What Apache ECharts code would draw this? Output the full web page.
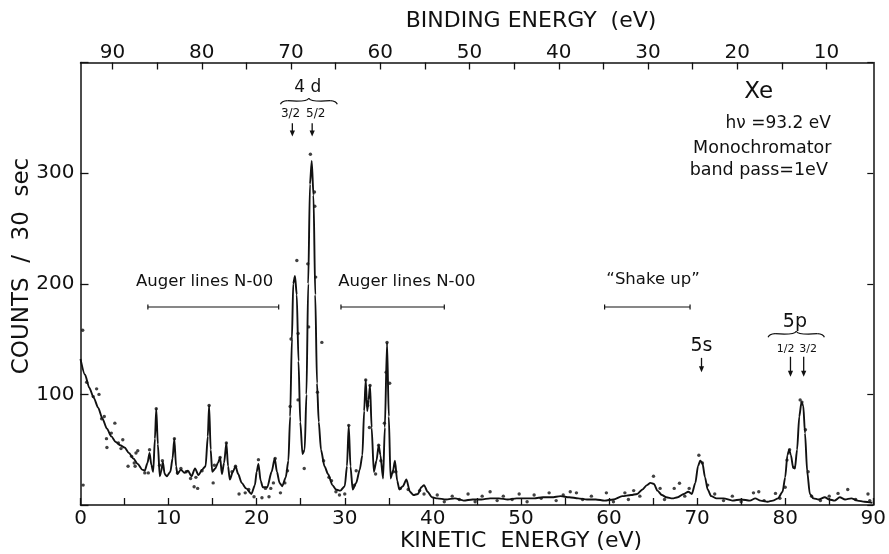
<!DOCTYPE html>
<html><head><meta charset="utf-8">
<script src="https://cdn.jsdelivr.net/npm/echarts@6/dist/echarts.min.js"></script>
<style>html,body{margin:0;padding:0;background:#fff}#c{width:889px;height:554px}</style>
</head><body><div id="c"></div>
<script>
// ---- data (kinetic energy eV, counts / 30 sec) ----
const spectrumCurve = [
[0.0,132],[0.5,118],[1.0,106],[1.5,97],[2.0,88],[2.5,78],[3.0,69],[3.5,62],[4.0,57],[4.5,54],[5.0,52],[5.5,47],[6.0,42],[6.5,37],[7.0,32],[7.3,31],[7.6,38],[7.84,47],[8.05,36],[8.25,30],[8.45,60],[8.6,87],[8.78,55],[9.0,26],[9.15,30],[9.35,39],[9.55,28],[9.8,26],[10.2,30],[10.45,42],[10.65,60],[10.85,35],[11.0,28],[11.4,32],[11.8,29],[12.2,31],[12.6,26],[13.0,33],[13.4,27],[13.8,32],[14.2,35],[14.45,62],[14.6,90],[14.78,50],[14.95,30],[15.3,33],[15.6,38],[15.85,43],[16.05,28],[16.3,38],[16.56,56],[16.75,35],[16.95,23],[17.3,30],[17.6,35],[17.9,28],[18.3,20],[18.8,15],[19.4,10],[19.8,18],[20.0,30],[20.2,37],[20.45,22],[20.7,16],[21.2,16],[21.7,30],[22.05,42],[22.3,30],[22.6,20],[22.9,17],[23.3,25],[23.6,40],[23.8,80],[24.0,150],[24.15,200],[24.35,207],[24.55,190],[24.75,130],[24.95,75],[25.2,46],[25.45,50],[25.65,100],[25.85,200],[26.05,290],[26.25,311],[26.45,280],[26.65,190],[26.85,110],[27.05,75],[27.3,50],[27.7,35],[28.1,28],[28.6,18],[29.0,14],[29.5,13],[30.0,17],[30.25,35],[30.45,72],[30.65,35],[30.9,14],[31.3,20],[31.7,32],[32.0,45],[32.2,85],[32.38,113],[32.55,85],[32.7,95],[32.87,108],[33.05,70],[33.3,30],[33.6,40],[33.85,54],[34.05,45],[34.35,24],[34.55,70],[34.8,147],[35.0,80],[35.2,24],[35.45,30],[35.7,40],[35.95,22],[36.2,14],[36.6,17],[37.0,23],[37.4,12],[37.8,9],[38.3,10],[38.7,16],[39.0,18],[39.4,12],[39.9,7],[40.5,6],[41.5,5],[42.5,6],[43.5,4],[44.5,5],[45.5,5],[46.5,6],[47.5,6],[48.5,5],[49.5,6],[50.5,6],[51.5,6],[52.5,7],[53.5,7],[54.5,8],[55.5,7],[56.5,6],[57.5,5],[58.5,5],[59.5,4],[60.5,5],[61.5,8],[62.5,9],[63.2,10],[63.8,14],[64.3,18],[64.7,20],[65.1,19],[65.5,13],[66.0,9],[66.5,7],[67.2,6],[67.8,7],[68.5,10],[69.0,12],[69.4,10],[69.8,20],[70.1,35],[70.35,40],[70.6,38],[70.9,25],[71.2,14],[71.6,8],[72.2,6],[73.0,6],[74.0,4],[75.0,5],[76.0,4],[76.6,6],[77.2,4],[78.0,3],[78.6,4],[79.2,6],[79.7,12],[80.0,25],[80.25,45],[80.45,50],[80.65,45],[80.9,34],[81.1,33],[81.35,50],[81.6,80],[81.85,93],[82.05,90],[82.25,65],[82.5,30],[82.8,10],[83.2,6],[83.8,5],[84.5,7],[85.0,5],[85.6,4],[86.2,7],[86.8,5],[87.5,6],[88.2,4],[89.0,3],[89.9,2]
];
const measuredPoints = [
[0.25,158],[0.3,18],[0.7,111],[1.45,98],[1.83,105],[2.1,100],[2.4,78],[2.7,80],[3.5,65],[3.9,74],[2.95,60],[3.0,52],[4.3,56],[4.6,51],[4.8,59],[5.4,35],[5.8,44],[6.1,38],[6.3,47],[6.5,49],[6.2,35],[7.3,29],[7.7,29],[7.84,50],
[8.6,87],[8.97,36],[9.3,40],[10.66,60],[11.0,29],[11.4,33],[12.0,30],[12.5,24],[12.9,16.5],[13.1,25],[13.3,15],[13.8,31],[14.6,90],[15.06,20],[15.2,36],[15.85,43],[16.56,56],[17.2,30],[17.6,35],[18.0,10],[18.7,11],[19.1,14],[19.7,7.5],[20.2,41],[20.6,6.5],[21.0,15],[21.4,7.5],[21.6,15],[21.9,20],[22.1,42],[22.7,11],[23.2,20],[23.5,31],[23.8,89],
[24.56,221],[23.9,150],[24.7,155],[24.7,95],[25.4,33],[25.9,161],[25.8,218],[26.1,317],[26.56,283],[26.6,270],[26.7,206],[26.9,102],[27.4,147],[27.6,40],[28.2,25],[28.5,22],[29.0,12],[29.4,9],[30.0,10],[30.45,72],[31.3,31],[31.1,18],[32.38,113],[32.87,108],[32.6,90],[32.8,70],[33.5,28],[33.85,54],[34.1,40],[34.5,74],[34.7,120],[34.8,147],[35.1,110],[35.5,30],[35.8,30],[36.3,15],[37.2,14],[38.5,13],[39.0,10],
[40.5,9],[41.3,3],[42.2,8],[43.0,5],[44.0,10],[44.8,3],[45.6,8],[46.5,12],[47.3,4],[48.0,8],[49.0,5],[49.8,10],[50.7,3],[51.5,9],[52.3,6],[53.2,11],[54.0,4],[54.8,9],[55.6,12],
[56.3,11],[57.0,5],[58.0,8],[59.7,11],[60.5,3],[61.8,11],[62.2,5],[62.8,13],[63.5,8],[65.05,26],[65.8,15],[66.3,5],[67.4,15],[68.0,19.6],[68.6,8],[69.1,15],[70.2,45],[70.6,38],[71.2,18],[72.0,10],[73.0,4],[74.0,8],[75.0,3],[76.4,11],[77.0,12],[77.6,4],[78.9,10.5],[79.4,6],[80.0,16],[80.2,40.6],[80.5,50],[81.0,34],[81.7,95],[81.9,93],[82.3,68],[82.6,30],[83.0,8],[84.0,4],[85.0,8],[86.0,10.5],[87.1,14],[88.0,5],[89.4,10],[89.6,4]
];
const kineticTickLabels = [0,10,20,30,40,50,60,70,80,90];
const bindingTickLabels = [90,80,70,60,50,40,30,20,10];
const countTickLabels = [100,200,300];

const FONT = '"DejaVu Sans", sans-serif';
const INK = '#111';

const chart = echarts.init(document.getElementById('c'), null, {renderer:'canvas'});
const lbl = (arr) => (v) => arr.indexOf(Math.round(v)) >= 0 && Math.abs(v - Math.round(v)) < 1e-6 ? String(Math.round(v)) : '';
const line = {show:true, onZero:false, lineStyle:{color:INK, width:1.5}};

chart.setOption({
  animation: false,
  backgroundColor: '#fff',
  grid: [
    {left: 80.5, right: 10.5, top: 62.5, bottom: 49},
    {left: 112.5, right: 62.5, top: 62.5, bottom: 49}
  ],
  xAxis: [
    {gridIndex:0, type:'value', position:'bottom', min:0, max:90, interval:5,
     axisLine:line, axisTick:{inside:true, length:7, lineStyle:{color:INK, width:1.3}},
     axisLabel:{formatter: lbl(kineticTickLabels), fontFamily:FONT, fontSize:20, color:INK, margin:4},
     splitLine:{show:false}},
    {gridIndex:0, type:'value', position:'top', min:0, max:90,
     axisLine:line, axisTick:{show:false}, axisLabel:{show:false}, splitLine:{show:false}},
    {gridIndex:1, type:'value', position:'top', min:10, max:90, interval:5, inverse:true,
     axisLine:{show:false, onZero:false}, axisTick:{inside:true, length:7, lineStyle:{color:INK, width:1.3}},
     axisLabel:{formatter: lbl(bindingTickLabels), fontFamily:FONT, fontSize:20, color:INK, margin:0},
     splitLine:{show:false}}
  ],
  yAxis: [
    {gridIndex:0, type:'value', position:'left', min:0, max:400, interval:100,
     axisLine:line, axisTick:{show:true, inside:true, length:8, lineStyle:{color:INK, width:1.3}},
     axisLabel:{formatter: lbl(countTickLabels), fontFamily:FONT, fontSize:20, color:INK, margin:6},
     splitLine:{show:false}},
    {gridIndex:0, type:'value', position:'right', min:0, max:400, interval:100,
     axisLine:line, axisTick:{show:true, inside:true, length:6, lineStyle:{color:INK, width:1.2}},
     axisLabel:{show:false}, splitLine:{show:false}},
    {gridIndex:1, type:'value', show:false, min:0, max:400}
  ],
  series: [
    {type:'line', xAxisIndex:0, yAxisIndex:0, data: spectrumCurve, showSymbol:false, smooth:0.25, smoothMonotone:'x',
     lineStyle:{color:INK, width:1.9}, z:3},
    {type:'scatter', xAxisIndex:0, yAxisIndex:0, data: measuredPoints, symbolSize:3.4, itemStyle:{color:INK}, z:4}
  ]
});

// ---- annotations placed in data units ----
const P = (ke, c) => chart.convertToPixel({gridIndex:0}, [ke, c]);
const g = [];
function txt(ke, c, s, size){ const p = P(ke,c); g.push({type:'text', x:p[0], y:p[1], style:{text:s, fontFamily:FONT, fontSize:size, fill:INK, align:'center', verticalAlign:'middle'}}); }
function arrow(ke, c1, c2){ const a = P(ke,c1), b = P(ke,c2); const h = 6, w = 2.6;
  g.push({type:'line', shape:{x1:a[0], y1:a[1], x2:b[0], y2:b[1]-h+1}, style:{stroke:INK, lineWidth:1.3}});
  g.push({type:'polygon', shape:{points:[[b[0]-w, b[1]-h],[b[0]+w, b[1]-h],[b[0], b[1]]]}, style:{fill:INK}}); }
function range(k1, k2, c){ const a = P(k1,c), b = P(k2,c);
  g.push({type:'line', shape:{x1:a[0], y1:a[1], x2:b[0], y2:b[1]}, style:{stroke:INK, lineWidth:1.2}});
  g.push({type:'line', shape:{x1:a[0], y1:a[1]-2.5, x2:a[0], y2:a[1]+2.5}, style:{stroke:INK, lineWidth:1.2}});
  g.push({type:'line', shape:{x1:b[0], y1:b[1]-2.5, x2:b[0], y2:b[1]+2.5}, style:{stroke:INK, lineWidth:1.2}}); }
function brace(k1, k2, c){ const a = P(k1,c), b = P(k2,c); const y = a[1], xm = (a[0]+b[0])/2;
  const st = {stroke:INK, lineWidth:1.2, fill:null};
  g.push({type:'bezierCurve', shape:{x1:a[0], y1:y+3, x2:a[0]+7, y2:y-0.5, cpx1:a[0]+1, cpy1:y}, style:st});
  g.push({type:'bezierCurve', shape:{x1:a[0]+7, y1:y-0.5, x2:xm, y2:y-3, cpx1:xm-2, cpy1:y+1}, style:st});
  g.push({type:'bezierCurve', shape:{x1:xm, y1:y-3, x2:b[0]-7, y2:y-0.5, cpx1:xm+2, cpy1:y+1}, style:st});
  g.push({type:'bezierCurve', shape:{x1:b[0]-7, y1:y-0.5, x2:b[0], y2:y+3, cpx1:b[0]-1, cpy1:y}, style:st}); }

// 4d doublet
txt(25.8, 377, '4 d', 17);
brace(22.7, 29.15, 365);
txt(23.85, 353.5, '3/2', 12); txt(26.7, 353.5, '5/2', 12);
arrow(24.05, 345, 333); arrow(26.3, 345, 333);
// Auger / shake-up ranges
txt(14.1, 201.5, 'Auger lines N-00', 16.5); range(7.65, 22.5, 179);
txt(37.05, 201.5, 'Auger lines N-00', 16.5); range(29.57, 41.3, 179);
txt(65.0, 204, '\u201CShake up\u201D', 16.5); range(59.5, 69.2, 179);
// 5s and 5p
txt(70.5, 143.5, '5s', 19); arrow(70.5, 133, 120);
txt(81.1, 165.5, '5p', 19); brace(78.06, 84.45, 154.4);
txt(80.05, 140.6, '1/2', 11); txt(82.6, 140.6, '3/2', 11);
arrow(80.6, 134, 116); arrow(82.1, 134, 116);
// info box
txt(77.0, 373, 'Xe', 23);
txt(79.2, 344.6, 'h\u03BD =93.2 eV', 17);
txt(77.4, 322, 'Monochromator', 17.5);
txt(77.0, 302.5, 'band pass=1eV', 17.5);
// axis titles (layout)
g.push({type:'text', x:531, y:21, style:{text:'BINDING ENERGY  (eV)', fontFamily:FONT, fontSize:22, fill:INK, align:'center', verticalAlign:'middle'}});
g.push({type:'text', x:521, y:541, style:{text:'KINETIC  ENERGY (eV)', fontFamily:FONT, fontSize:22, fill:INK, align:'center', verticalAlign:'middle'}});
g.push({type:'text', x:22, y:266, rotation:Math.PI/2, style:{text:'COUNTS  /  30  sec', fontFamily:FONT, fontSize:23, fill:INK, align:'center', verticalAlign:'middle'}});
chart.setOption({graphic: g});
</script></body></html>
